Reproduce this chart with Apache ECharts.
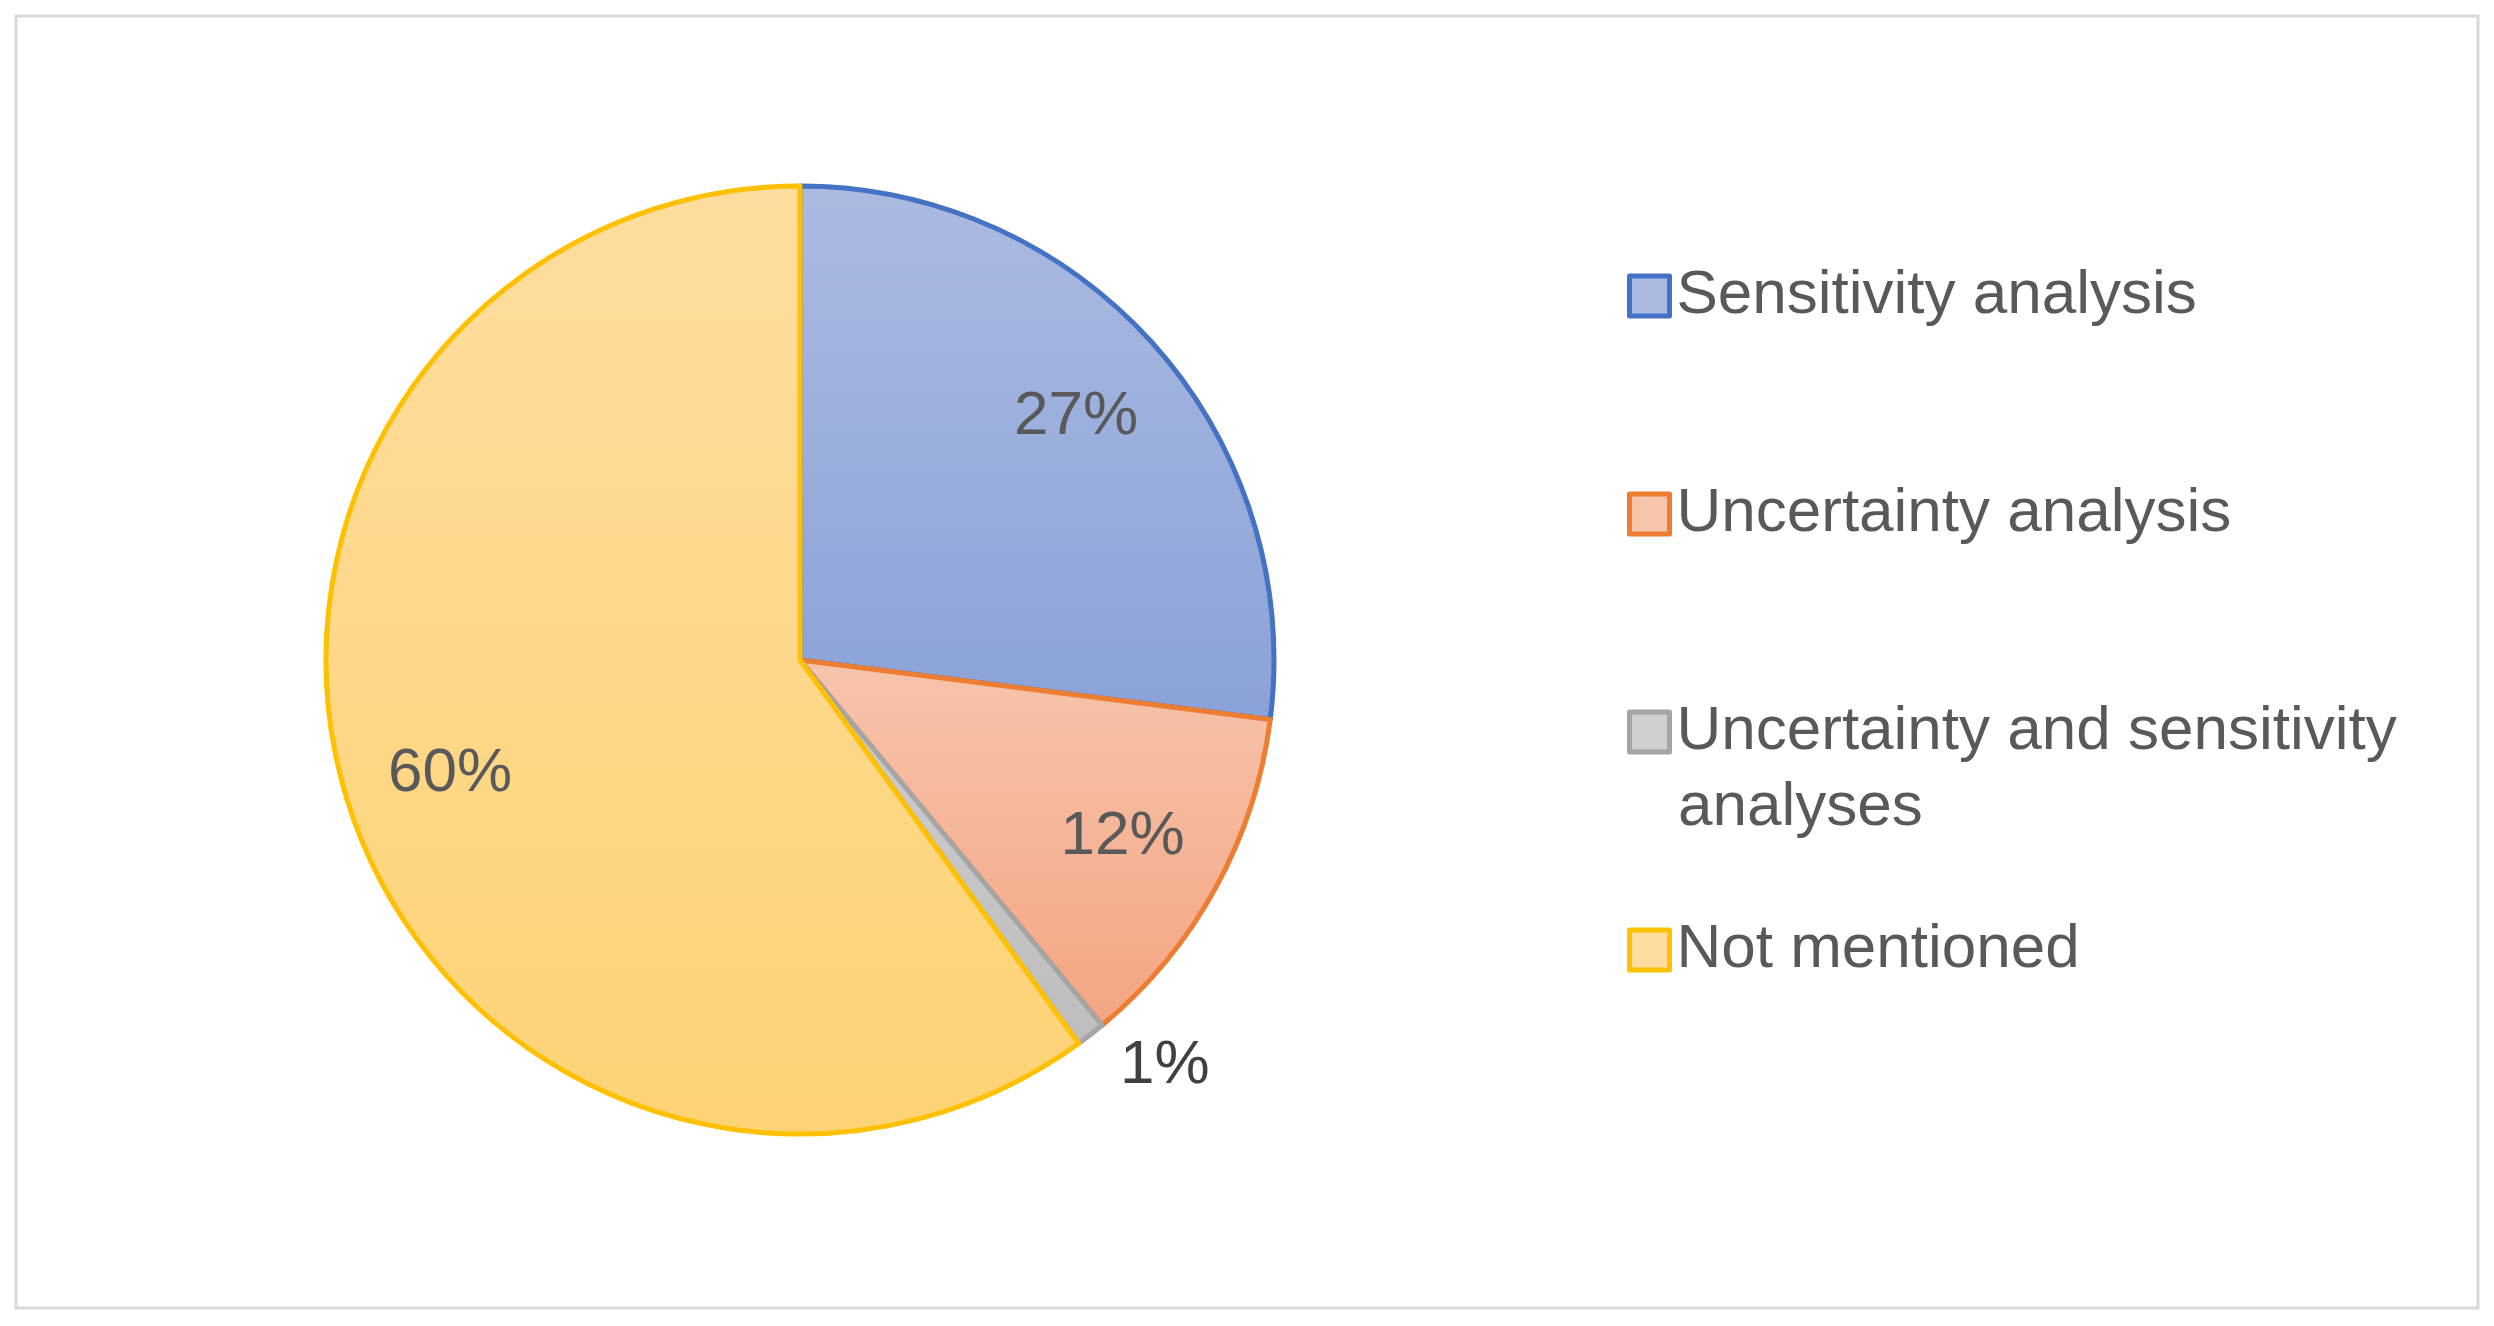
<!DOCTYPE html>
<html>
<head>
<meta charset="utf-8">
<script src="https://cdn.jsdelivr.net/npm/echarts@6/dist/echarts.min.js"></script>
<style>
html,body{margin:0;padding:0;background:#fff;}
#main{width:2494px;height:1326px;}
</style>
</head>
<body>
<div id="main"></div>
<script>
var categories = ['Sensitivity analysis', 'Uncertainty analysis', 'Uncertainty and sensitivity', 'Not mentioned'];
var values = [27, 12, 1, 60];
var legendTops = [248, 466, 684, 902];
var borderColors = ['#4472C4', '#ED7D31', '#A5A5A5', '#FFC000'];
var fillTop = ['#ABBAE1', '#F7C4AC', '#CFCFCF', '#FEDD9E'];
var fillBottom = ['#8AA2D8', '#F4A582', '#BDBDBD', '#FDD375'];
var FONT = 'Liberation Sans';

var myChart = echarts.init(document.getElementById('main'));

function grad(i) {
    // lighter at top
    return new echarts.graphic.LinearGradient(0, 0, 0, 1, [
        {offset: 0, color: fillTop[i]},
        {offset: 1, color: fillBottom[i]}
    ]);
}

var pieData = categories.map(function (c, i) {
    return {
        name: c,
        value: values[i],
        itemStyle: {color: grad(i), borderColor: borderColors[i], borderWidth: 5},
        label: {show: i == 2}
    };
});
// transparent copy only carries the inner labels
var labelData = categories.map(function (c, i) {
    return {name: c, value: values[i], label: {show: i != 2}};
});

// one legend per item so the spacing can follow the picture
var legends = categories.map(function (c, i) {
    return {
        left: 1622,
        top: legendTops[i],
        itemWidth: 40,
        itemHeight: 40,
        icon: 'rect',
        itemStyle: {borderWidth: 5},
        data: [{name: c, itemStyle: {color: fillTop[i], borderColor: borderColors[i]}}],
        textStyle: {fontFamily: FONT, fontSize: 62, color: '#595959', lineHeight: 86, padding: [0, 0, 0, 2]}
    };
});

var option = {
    animation: false,
    graphic: [{
        type: 'rect',
        shape: {x: 16, y: 16, width: 2462, height: 1292},
        style: {fill: 'none', stroke: '#D9D9D9', lineWidth: 3}
    }, {
        type: 'text',
        left: 1678,
        top: 777,
        style: {text: 'analyses', font: '62px "Liberation Sans"', fill: '#595959'}
    }],
    legend: legends,
    series: [{
        type: 'pie',
        center: [800, 660],
        radius: 474,
        startAngle: 90,
        clockwise: true,
        data: pieData,
        label: {
            position: 'outside',
            formatter: '{d}%',
            fontFamily: FONT,
            fontSize: 62,
            color: '#404040'
        },
        labelLine: {show: false, length: 40, length2: 0},
        emphasis: {disabled: true}
    }, {
        type: 'pie',
        center: [800, 660],
        radius: 730,
        startAngle: 90,
        silent: true,
        data: labelData,
        itemStyle: {color: 'rgba(0,0,0,0)'},
        label: {
            position: 'inside',
            formatter: '{d}%',
            fontFamily: FONT,
            fontSize: 62,
            color: '#595959'
        }
    }]
};

myChart.setOption(option);
</script>
</body>
</html>
